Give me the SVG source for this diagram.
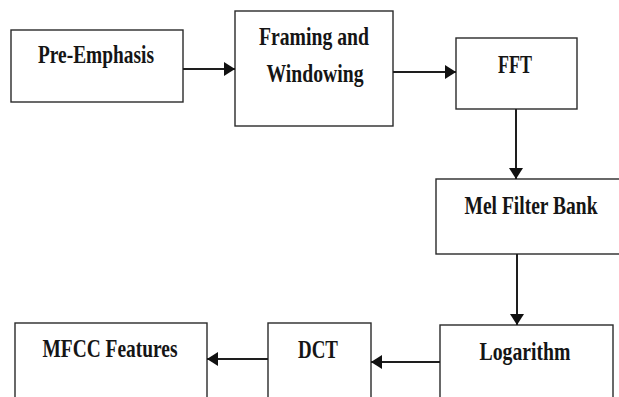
<svg xmlns="http://www.w3.org/2000/svg" width="619" height="397" viewBox="0 0 619 397">
  <defs>
    <style>
      .box { fill: #ffffff; stroke: #2a2a2a; stroke-width: 1.4; }
      .lbl { font-family: "Liberation Serif", "Times New Roman", serif; font-weight: bold; font-size: 25px; fill: #151515; text-anchor: middle; }
      .wire { stroke: #1e1e1e; stroke-width: 2; fill: none; }
    </style>
    <marker id="arrow" markerUnits="userSpaceOnUse" markerWidth="12" markerHeight="14" refX="11" refY="7" orient="auto">
      <path d="M0,0 L11,7 L0,14 Z" fill="#111111"/>
    </marker>
  </defs>
  <rect width="619" height="397" fill="#ffffff"/>

  <g id="pre-emphasis">
    <rect class="box" x="11" y="30" width="172" height="72"/>
    <text class="lbl" x="96" y="63" textLength="116" lengthAdjust="spacingAndGlyphs">Pre-Emphasis</text>
  </g>

  <g id="framing">
    <rect class="box" x="235" y="11" width="158" height="115"/>
    <text class="lbl" x="314" y="45" textLength="110" lengthAdjust="spacingAndGlyphs">Framing and</text>
    <text class="lbl" x="315" y="82" textLength="97" lengthAdjust="spacingAndGlyphs">Windowing</text>
  </g>

  <g id="fft">
    <rect class="box" x="456" y="38" width="121" height="71"/>
    <text class="lbl" x="515" y="73" textLength="34" lengthAdjust="spacingAndGlyphs">FFT</text>
  </g>

  <g id="mel-filter-bank">
    <rect class="box" x="436" y="179" width="186" height="75"/>
    <text class="lbl" x="531" y="214" textLength="133" lengthAdjust="spacingAndGlyphs">Mel Filter Bank</text>
  </g>

  <g id="logarithm">
    <rect class="box" x="440" y="325" width="173" height="90"/>
    <text class="lbl" x="525" y="360" textLength="91" lengthAdjust="spacingAndGlyphs">Logarithm</text>
  </g>

  <g id="dct">
    <rect class="box" x="268" y="323" width="103" height="90"/>
    <text class="lbl" x="318" y="358" textLength="40" lengthAdjust="spacingAndGlyphs">DCT</text>
  </g>

  <g id="mfcc-features">
    <rect class="box" x="15" y="323" width="192" height="90"/>
    <text class="lbl" x="110" y="357" textLength="135" lengthAdjust="spacingAndGlyphs">MFCC Features</text>
  </g>

  <g id="connectors">
    <line class="wire" x1="183" y1="69" x2="235" y2="69" marker-end="url(#arrow)"/>
    <line class="wire" x1="393" y1="72" x2="456" y2="72" marker-end="url(#arrow)"/>
    <line class="wire" x1="516" y1="109" x2="516" y2="179" marker-end="url(#arrow)"/>
    <line class="wire" x1="517" y1="254" x2="517" y2="325" marker-end="url(#arrow)"/>
    <line class="wire" x1="440" y1="362" x2="371" y2="362" marker-end="url(#arrow)"/>
    <line class="wire" x1="268" y1="359" x2="207" y2="359" marker-end="url(#arrow)"/>
  </g>
</svg>
